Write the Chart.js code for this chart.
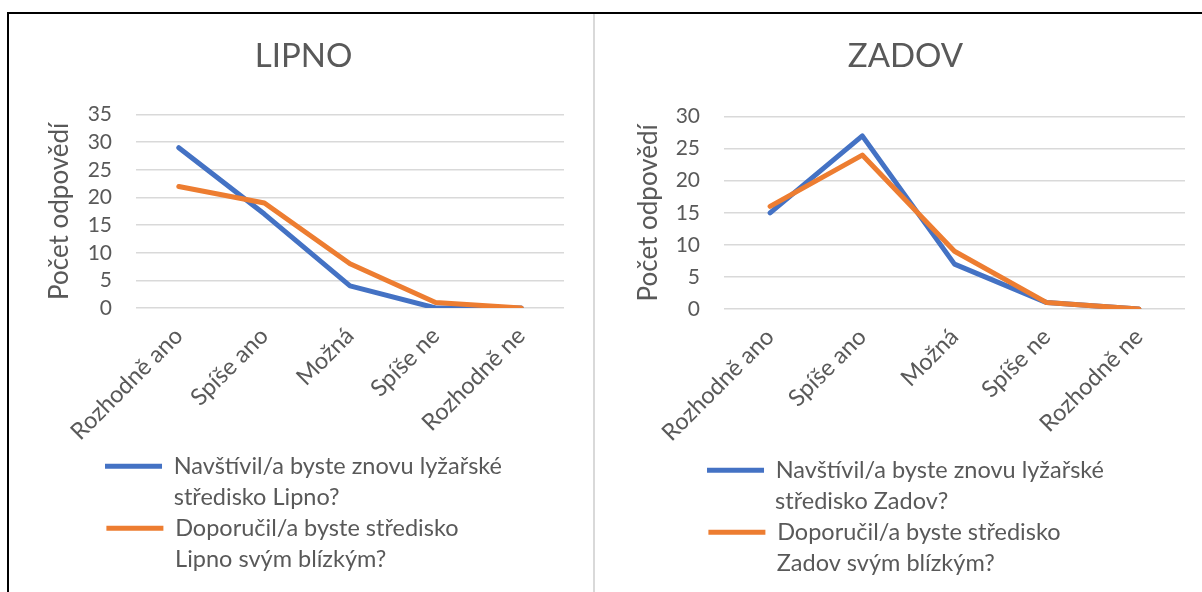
<!DOCTYPE html>
<html>
<head>
<meta charset="utf-8">
<script src="https://cdn.jsdelivr.net/npm/chart.js@4.4.0/dist/chart.umd.min.js"></script>
<style>
  html, body { margin: 0; padding: 0; background: #fff; }
  body { width: 1202px; height: 592px; position: relative; overflow: hidden; }
  #frame { position: absolute; left: 7px; top: 12px; right: -10px; bottom: -10px;
           border-top: 2px solid #000; border-left: 2px solid #000; }
  #divider { position: absolute; left: 593px; top: 14px; width: 2px; bottom: 0; background: #d9d9d9; }
  .box { position: absolute; top: 14px; height: 578px; }
  #left { left: 10px; width: 583px; }
  #right { left: 596px; width: 606px; }
</style>
</head>
<body>
<div id="frame"></div>
<div id="divider"></div>
<div class="box" id="left"><canvas id="lipnoChart"></canvas></div>
<div class="box" id="right"><canvas id="zadovChart"></canvas></div>
<script>
// kategorie odpovědí
const categories = ['Rozhodně ano', 'Spíše ano', 'Možná', 'Spíše ne', 'Rozhodně ne'];

// Lipno
const lipnoVisit = [29, 17, 4, 0, 0];
const lipnoRecommend = [22, 19, 8, 1, 0];
const lipnoLegend = [
    ['Navštívil/a byste znovu lyžařské', 'středisko Lipno?'],
    ['Doporučil/a byste středisko', 'Lipno svým blízkým?']
];
const lipnoTicks = [0, 5, 10, 15, 20, 25, 30, 35];

// Zadov
const zadovVisit = [15, 27, 7, 1, 0];
const zadovRecommend = [16, 24, 9, 1, 0];
const zadovLegend = [
    ['Navštívil/a byste znovu lyžařské', 'středisko Zadov?'],
    ['Doporučil/a byste středisko', 'Zadov svým blízkým?']
];
const zadovTicks = [0, 5, 10, 15, 20, 25, 30];

const textColor = '#595959';
const font = 'Lato';
const legendSize = 23.5;

// doplní řádky legendy mezerami na stejnou šířku, aby byly zarovnané vlevo
function padLines(lines) {
    const c = document.createElement('canvas').getContext('2d');
    c.font = legendSize + 'px ' + font;
    const w = Math.max(...lines.map(t => c.measureText(t).width));
    const sp = c.measureText(' ').width;
    return lines.map(t => {
        while (c.measureText(t).width < w - sp / 2) t += ' ';
        return t;
    });
}

function makeChart(id, title, visit, recommend, legend, ticks, lay) {
    const ctx = document.getElementById(id).getContext('2d');
    const colors = ['#4472C4', '#ED7D31'];
    return new Chart(ctx, {
        type: 'line',
        data: {
            labels: categories,
            datasets: [{
                label: legend[0].join(' '),
                data: visit,
                borderColor: colors[0],
                backgroundColor: colors[0],
                order: 1
            }, {
                label: legend[1].join(' '),
                data: recommend,
                borderColor: colors[1],
                backgroundColor: colors[1],
                order: 0
            }]
        },
        options: {
            responsive: true,
            maintainAspectRatio: false,
            animation: false,
            elements: {
                line: { borderWidth: 5, tension: 0, borderCapStyle: 'round', borderJoinStyle: 'round' },
                point: { radius: 0, hoverRadius: 0 }
            },
            layout: { padding: { left: lay.left, right: lay.right, top: 0, bottom: lay.bottom } },
            plugins: {
                title: {
                    display: true,
                    text: title,
                    color: textColor,
                    font: { family: font, size: 33, weight: 'normal' },
                    padding: { top: 23, bottom: lay.titleBottom }
                },
                legend: {
                    position: 'bottom',
                    labels: {
                        color: textColor,
                        font: { family: font, size: legendSize },
                        boxWidth: 57,
                        boxHeight: 5,
                        padding: 7.5,
                        generateLabels: chart => {
                            const items = [];
                            const lines = padLines(legend.flat());
                            let k = 0;
                            legend.forEach((entry, i) => {
                                entry.forEach((line, j) => {
                                    const c = j === 0 ? colors[i] : 'rgba(0,0,0,0)';
                                    items.push({
                                        text: lines[k++],
                                        fillStyle: c,
                                        strokeStyle: c,
                                        lineWidth: 0,
                                        fontColor: textColor,
                                        hidden: false,
                                        datasetIndex: i
                                    });
                                });
                            });
                            return items;
                        }
                    }
                },
                tooltip: { enabled: false }
            },
            scales: {
                x: {
                    offset: true,
                    grid: { display: false },
                    border: { display: false },
                    afterFit: s => { s.height = lay.xHeight; },
                    ticks: {
                        color: textColor,
                        font: { family: font, size: 23.5 },
                        minRotation: 45,
                        maxRotation: 45,
                        autoSkip: false,
                        padding: 6
                    }
                },
                y: {
                    min: ticks[0],
                    max: ticks[ticks.length - 1],
                    afterFit: s => { s.width = lay.yWidth; },
                    afterBuildTicks: s => { s.ticks = ticks.map(v => ({ value: v })); },
                    grid: { color: '#d9d9d9', lineWidth: 1.5, drawTicks: false },
                    border: { display: false },
                    ticks: {
                        color: textColor,
                        font: { family: font, size: 21 },
                        padding: 24,
                        autoSkip: false
                    },
                    title: {
                        display: true,
                        text: 'Počet odpovědí',
                        color: textColor,
                        font: { family: font, size: 26 },
                        padding: { top: lay.yTitlePad, bottom: 0 }
                    }
                }
            }
        }
    });
}

document.addEventListener('DOMContentLoaded', function () {
    makeChart('lipnoChart', 'LIPNO', lipnoVisit, lipnoRecommend, lipnoLegend, lipnoTicks,
        { left: 33, right: 29, bottom: 11, titleBottom: 38, yWidth: 93, yTitlePad: 1, xHeight: 139 });
    makeChart('zadovChart', 'ZADOV', zadovVisit, zadovRecommend, zadovLegend, zadovTicks,
        { left: 30, right: 17, bottom: 7, titleBottom: 40, yWidth: 98, yTitlePad: 7, xHeight: 142 });
});
</script>
</body>
</html>
